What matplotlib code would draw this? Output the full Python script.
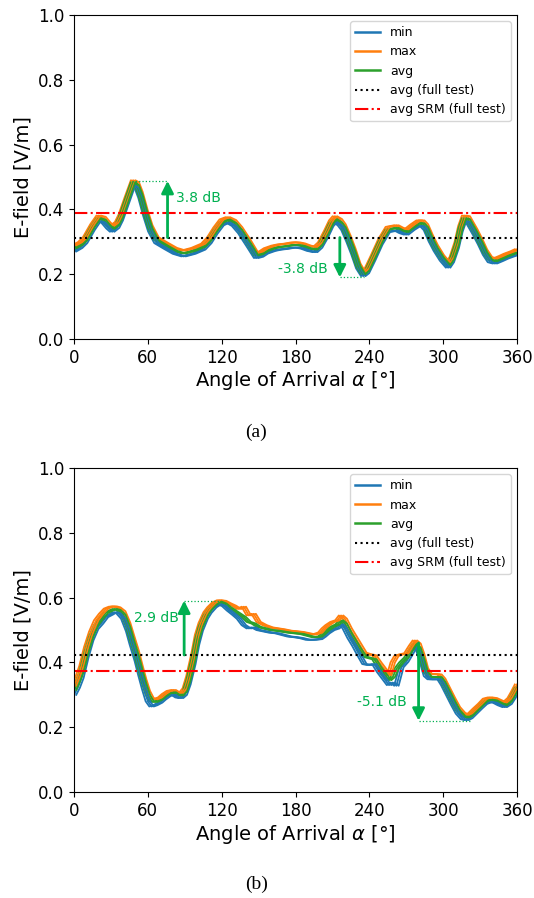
import numpy as np
import matplotlib.pyplot as plt

# ---- panel (a) ----
ang_a = [0, 5, 9, 15, 20, 24, 28, 31, 35, 38, 43, 48, 51, 54, 58, 62, 67, 75, 82, 89,
         97, 105, 110, 115, 120, 125, 130, 135, 142, 148, 152, 156, 162, 167, 172, 178,
         182, 186, 191, 196, 200, 205, 209, 212, 216, 219, 223, 227, 231, 235, 238, 243,
         249, 255, 262, 266, 270, 275, 280, 283, 286, 290, 294, 299, 304, 307, 311, 314,
         317, 320, 323, 326, 330, 334, 338, 342, 347, 351, 356, 360]
avg_a = [0.280, 0.290, 0.305, 0.345, 0.373, 0.368, 0.350, 0.340, 0.352, 0.375, 0.430, 0.484,
         0.475, 0.445, 0.390, 0.342, 0.305, 0.287, 0.272, 0.264, 0.272, 0.285, 0.305, 0.335,
         0.360, 0.369, 0.358, 0.336, 0.295, 0.258, 0.262, 0.272, 0.280, 0.284, 0.286, 0.290,
         0.290, 0.287, 0.280, 0.276, 0.290, 0.325, 0.357, 0.370, 0.360, 0.345, 0.310, 0.270,
         0.225, 0.200, 0.210, 0.250, 0.300, 0.338, 0.343, 0.335, 0.330, 0.345, 0.358, 0.357,
         0.345, 0.310, 0.280, 0.250, 0.228, 0.245, 0.290, 0.340, 0.373, 0.370, 0.350, 0.330,
         0.300, 0.268, 0.245, 0.240, 0.248, 0.255, 0.262, 0.268]
min_a = [0.270, 0.281, 0.296, 0.336, 0.364, 0.359, 0.341, 0.331, 0.343, 0.366, 0.420, 0.474,
         0.466, 0.436, 0.380, 0.332, 0.296, 0.278, 0.263, 0.255, 0.263, 0.276, 0.296, 0.326,
         0.351, 0.360, 0.349, 0.327, 0.286, 0.250, 0.254, 0.264, 0.272, 0.276, 0.278, 0.282,
         0.282, 0.279, 0.272, 0.268, 0.282, 0.316, 0.348, 0.361, 0.351, 0.336, 0.301, 0.262,
         0.218, 0.194, 0.203, 0.242, 0.292, 0.330, 0.335, 0.327, 0.322, 0.337, 0.349, 0.348,
         0.336, 0.301, 0.272, 0.242, 0.220, 0.237, 0.281, 0.331, 0.364, 0.361, 0.341, 0.321,
         0.292, 0.260, 0.237, 0.233, 0.241, 0.248, 0.255, 0.260]
max_a = [0.289, 0.299, 0.314, 0.354, 0.381, 0.377, 0.359, 0.349, 0.361, 0.384, 0.438, 0.490,
         0.484, 0.454, 0.399, 0.351, 0.314, 0.296, 0.281, 0.273, 0.281, 0.294, 0.314, 0.344,
         0.369, 0.376, 0.367, 0.345, 0.304, 0.266, 0.270, 0.280, 0.288, 0.292, 0.294, 0.298,
         0.298, 0.295, 0.288, 0.284, 0.298, 0.334, 0.366, 0.379, 0.370, 0.354, 0.319, 0.279,
         0.233, 0.207, 0.218, 0.258, 0.308, 0.346, 0.351, 0.343, 0.338, 0.353, 0.366, 0.366,
         0.354, 0.319, 0.289, 0.258, 0.236, 0.253, 0.299, 0.349, 0.381, 0.379, 0.359, 0.339,
         0.309, 0.276, 0.253, 0.248, 0.256, 0.263, 0.270, 0.277]
full_avg_a = 0.313
srm_a = 0.39

# ---- panel (b) ----
ang_b = [0, 3, 6, 10, 14, 18, 22, 26, 30, 33, 36, 40, 44, 47, 51, 54, 57, 60, 63, 66, 70,
         73, 77, 81, 84, 87, 90, 93, 97, 100, 103, 107, 110, 114, 118, 122, 126, 130, 134,
         138, 142, 146, 150, 155, 160, 165, 170, 175, 180, 185, 190, 195, 200, 203, 206,
         210, 214, 217, 220, 224, 228, 232, 236, 240, 244, 248, 252, 256, 259, 262, 266,
         270, 274, 277, 280, 283, 286, 289, 293, 297, 300, 304, 308, 312, 316, 319, 322,
         326, 330, 334, 338, 342, 346, 350, 354, 357, 360]
avg_b = [0.315, 0.340, 0.370, 0.430, 0.480, 0.515, 0.535, 0.553, 0.560, 0.565, 0.562, 0.548,
         0.510, 0.470, 0.420, 0.376, 0.335, 0.300, 0.280, 0.278, 0.285, 0.295, 0.305, 0.308,
         0.300, 0.298, 0.310, 0.345, 0.410, 0.470, 0.510, 0.545, 0.562, 0.578, 0.588, 0.582,
         0.570, 0.560, 0.550, 0.540, 0.525, 0.520, 0.510, 0.505, 0.500, 0.498, 0.495, 0.492,
         0.490, 0.488, 0.483, 0.478, 0.480, 0.490, 0.500, 0.510, 0.517, 0.530, 0.520, 0.490,
         0.465, 0.440, 0.418, 0.414, 0.410, 0.385, 0.365, 0.345, 0.355, 0.380, 0.400, 0.415,
         0.440, 0.458, 0.445, 0.410, 0.370, 0.356, 0.355, 0.355, 0.340, 0.310, 0.280, 0.252,
         0.235, 0.230, 0.235, 0.250, 0.265, 0.280, 0.285, 0.283, 0.275, 0.268, 0.280, 0.300,
         0.322]
min_b = [0.300, 0.322, 0.352, 0.415, 0.468, 0.503, 0.520, 0.540, 0.548, 0.555, 0.552, 0.535,
         0.496, 0.455, 0.405, 0.360, 0.318, 0.280, 0.264, 0.268, 0.276, 0.286, 0.297, 0.300,
         0.292, 0.290, 0.300, 0.332, 0.395, 0.455, 0.498, 0.535, 0.553, 0.570, 0.580, 0.574,
         0.560, 0.548, 0.535, 0.515, 0.505, 0.508, 0.500, 0.496, 0.492, 0.490, 0.485, 0.480,
         0.478, 0.475, 0.470, 0.470, 0.472, 0.480, 0.490, 0.500, 0.505, 0.518, 0.505, 0.475,
         0.450, 0.422, 0.395, 0.392, 0.395, 0.370, 0.350, 0.330, 0.338, 0.328, 0.385, 0.402,
         0.428, 0.448, 0.435, 0.398, 0.358, 0.348, 0.348, 0.348, 0.330, 0.300, 0.270, 0.242,
         0.225, 0.222, 0.228, 0.243, 0.258, 0.272, 0.278, 0.276, 0.268, 0.262, 0.272, 0.290,
         0.312]
max_b = [0.328, 0.356, 0.388, 0.448, 0.495, 0.530, 0.550, 0.566, 0.572, 0.573, 0.570, 0.558,
         0.522, 0.484, 0.435, 0.390, 0.348, 0.312, 0.290, 0.286, 0.292, 0.302, 0.312, 0.315,
         0.308, 0.306, 0.320, 0.358, 0.425, 0.485, 0.522, 0.555, 0.570, 0.585, 0.592, 0.590,
         0.582, 0.575, 0.565, 0.572, 0.545, 0.550, 0.525, 0.515, 0.508, 0.505, 0.502, 0.498,
         0.496, 0.494, 0.490, 0.486, 0.492, 0.505, 0.515, 0.525, 0.530, 0.545, 0.535, 0.505,
         0.480, 0.455, 0.430, 0.425, 0.422, 0.400, 0.380, 0.360, 0.400, 0.420, 0.425, 0.428,
         0.452, 0.468, 0.458, 0.425, 0.382, 0.365, 0.364, 0.363, 0.350, 0.320, 0.290, 0.262,
         0.245, 0.238, 0.243, 0.258, 0.272, 0.288, 0.292, 0.290, 0.283, 0.276, 0.290, 0.310,
         0.332]
full_avg_b = 0.423
srm_b = 0.374

# annotations: (angle, from, to, end of dotted guide, text, text angle, text y, align)
notes_a = [(76, full_avg_a, 0.488, 47, "3.8 dB", 83, 0.436, "left"),
           (216, full_avg_a, 0.19, 236, "-3.8 dB", 206, 0.215, "right")]
notes_b = [(89.5, full_avg_b, 0.591, 118.5, "2.9 dB", 85, 0.536, "right"),
           (280, 0.46, 0.22, 323, "-5.1 dB", 270, 0.278, "right")]

green = "#00b050"
shifts = [-1.8, 0.0, 1.8]

fig = plt.figure(figsize=(5.34, 8.98), dpi=100)
ax_a = fig.add_axes([0.1386, 0.6225, 0.8296, 0.3608])
ax_b = fig.add_axes([0.1386, 0.118, 0.8296, 0.3608])


def draw(ax, ang, mn, mx, av, full, srm, notes):
    ang = np.array(ang)
    for k, s in enumerate(shifts):
        ax.plot(ang + s, mn, color="tab:blue", lw=1.3, label="min" if k == 0 else None)
        ax.plot(ang + s, mx, color="tab:orange", lw=1.3, label="max" if k == 0 else None)
        ax.plot(ang + s, av, color="tab:green", lw=1.3, label="avg" if k == 0 else None)
    ax.axhline(full, color="black", ls=":", lw=1.5, label="avg (full test)")
    ax.axhline(srm, color="red", ls="-.", lw=1.5, label="avg SRM (full test)")
    for x, y0, y1, xg, txt, xt, yt, ha in notes:
        ax.annotate("", xy=(x, y1), xytext=(x, y0),
                    arrowprops=dict(arrowstyle="-|>", color=green, lw=2,
                                    mutation_scale=18, shrinkA=0, shrinkB=0))
        ax.plot([min(x, xg), max(x, xg)], [y1, y1], color=green, ls=":", lw=0.9)
        ax.text(xt, yt, txt, color=green, fontsize=10, ha=ha, va="center")
    ax.set_xlim(0, 360)
    ax.set_ylim(0, 1.0)
    ax.set_xticks(np.arange(0, 361, 60))
    ax.set_yticks(np.arange(0, 1.01, 0.2))
    ax.tick_params(labelsize=12)
    ax.set_xlabel("Angle of Arrival $\\alpha$ [°]", fontsize=14, labelpad=2)
    ax.set_ylabel("E-field [V/m]", fontsize=14)
    leg = ax.legend(loc="upper right", fontsize=9)
    for h in leg.get_lines()[:3]:
        h.set_linewidth(1.8)


draw(ax_a, ang_a, min_a, max_a, avg_a, full_avg_a, srm_a, notes_a)
draw(ax_b, ang_b, min_b, max_b, avg_b, full_avg_b, srm_b, notes_b)

fig.text(0.48, 1 - 432 / 898, "(a)", family="Liberation Serif", fontsize=14, ha="center", va="center")
fig.text(0.48, 1 - 884 / 898, "(b)", family="Liberation Serif", fontsize=14, ha="center", va="center")

fig.savefig("out.png", dpi=100)
